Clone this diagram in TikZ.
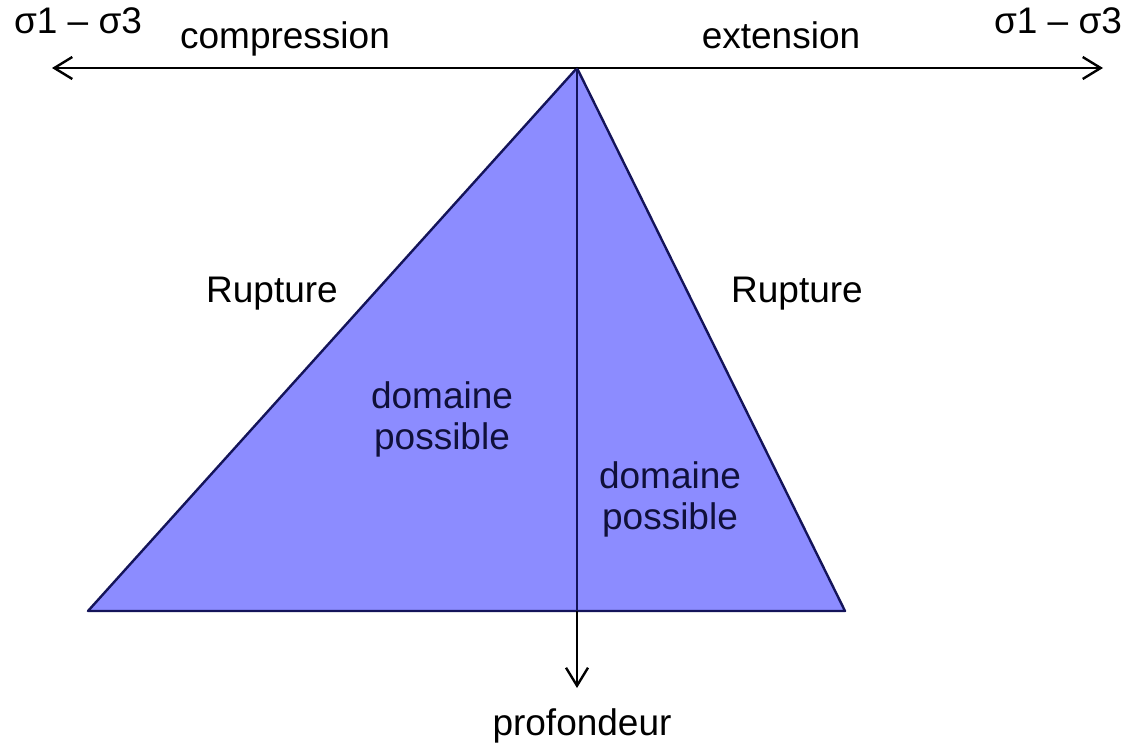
\documentclass[tikz,border=0pt]{standalone}
\usepackage{fontspec}
\setmainfont{Liberation Sans}
\usetikzlibrary{arrows.meta}
\definecolor{fillblue}{HTML}{8C8CFF}
\definecolor{edgeblue}{HTML}{14145A}
\definecolor{intext}{HTML}{10103A}
\tikzset{
  lbl/.style={font=\fontsize{37}{42}\selectfont, inner sep=0pt, anchor=base},
  axis/.style={line width=2.4pt, -{Straight Barb[length=18pt,width=22pt,line width=2.4pt]}},
}
\begin{document}
\begin{tikzpicture}[x=1pt,y=-1pt]
\useasboundingbox (0,0) rectangle (1132,744);
\coordinate (apex) at (577,68);
\coordinate (bl) at (88,611);
\coordinate (br) at (845,611);
\coordinate (bm) at (577,611);
\coordinate (le) at (52,68);
\coordinate (re) at (1103,68);
\coordinate (de) at (577,688);
\fill[fillblue] (apex) -- (bl) -- (br) -- cycle;
\draw[edgeblue, line width=2.4pt, line join=round] (apex) -- (bl) -- (br) -- cycle;
\draw[axis] (apex) -- (le);
\draw[axis] (apex) -- (re);
\draw[edgeblue, line width=2.6pt] (apex) -- (bm);
\draw[axis] (bm) -- (de);
\node[lbl] (s1) at (78,33) {σ1 – σ3};
\node[lbl] (s2) at (1058,33) {σ1 – σ3};
\node[lbl] (comp) at (285,48) {compression};
\node[lbl] (ext) at (781,48) {extension};
\node[lbl] (r1) at (272,302) {Rupture};
\node[lbl] (r2) at (797,302) {Rupture};
\node[lbl, text=intext] (d1a) at (442,408) {domaine};
\node[lbl, text=intext] (d1b) at (442,449) {possible};
\node[lbl, text=intext] (d2a) at (670,488) {domaine};
\node[lbl, text=intext] (d2b) at (670,529) {possible};
\node[lbl] (prof) at (582,735) {profondeur};
\end{tikzpicture}
\end{document}
